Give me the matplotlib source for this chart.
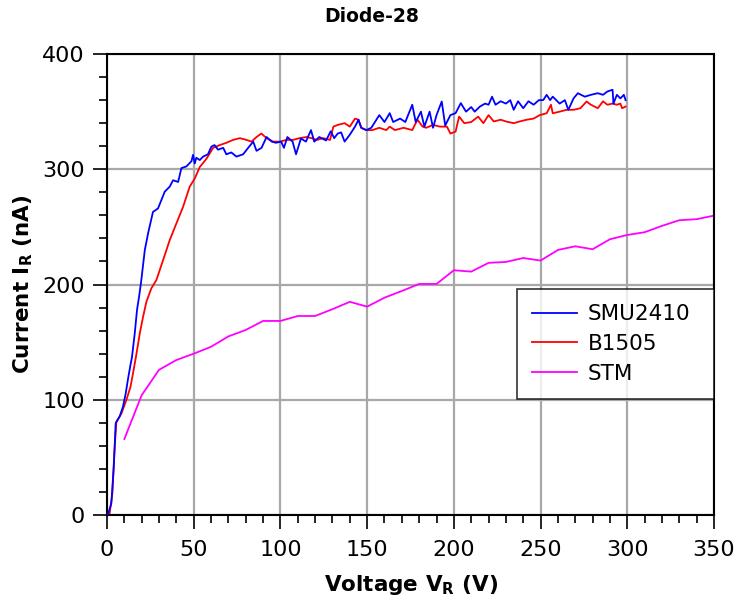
import numpy as np
import matplotlib
matplotlib.use("Agg")
import matplotlib.pyplot as plt
from matplotlib.ticker import MultipleLocator

# SMU2410 (blau)
smu_v = [0.0, 0.6, 2.5, 3.9, 5.0, 7.3, 9.2, 10.8, 12.0, 13.5, 14.4, 16.0, 17.3, 18.5, 19.8,
         21.8, 23.7, 26.5, 29.4, 33.3, 36.2, 38.1, 41.0, 42.9, 45.8, 48.7, 49.6, 50.6, 51.5,
         53.5, 55.4, 58.2, 60.2, 62.0, 64.0, 67.0, 68.8, 71.7, 74.6, 78.5, 81.4, 84.3, 86.2,
         89.1, 92.0, 95.0, 97.4, 100.4, 102.0, 104.0, 107.0, 109.0, 111.8, 114.7, 117.6,
         119.5, 122.4, 126.3, 129.0, 131.0, 133.0, 135.0, 137.0, 140.0, 143.0, 145.0, 146.6,
         149.5, 152.4, 157.0, 160.0, 163.0, 165.0, 169.0, 172.0, 176.0, 178.0, 181.0, 183.0,
         186.0, 188.0, 190.0, 193.0, 195.0, 198.0, 201.0, 204.0, 207.0, 210.0, 212.0, 215.0,
         218.0, 220.0, 222.0, 224.0, 227.0, 230.0, 232.5, 234.5, 237.0, 240.0, 243.0, 246.0,
         249.0, 251.5, 253.5, 255.5, 257.0, 261.0, 264.0, 266.0, 269.0, 271.5, 275.5, 279.0,
         283.0, 286.0, 288.5, 291.5, 292.0, 294.0, 296.0, 298.0, 299.0]
smu_i = [0, 1, 10, 42, 79.6, 85.5, 94, 105.6, 117, 130, 137, 157.7, 178, 189.5, 204,
         230, 244.5, 263, 266, 280.6, 285, 290.5, 289, 301, 302.5, 307, 312.5, 305, 310,
         308, 311, 313, 319.7, 321, 317, 318.6, 313, 314.6, 311, 313, 318.6, 324, 316,
         318.6, 328, 324, 323, 324, 318.6, 328, 324, 313, 326.7, 324, 334,
         324, 328, 325, 333, 327, 331, 332, 324, 330, 337, 343, 336,
         334, 336, 347, 341, 348.7, 341, 344, 341, 356, 341, 350, 337,
         350, 336, 347, 358.8, 338, 347, 348.7, 357.4, 350, 354, 350, 354.4,
         357, 356, 363, 356, 359, 357, 360, 351.6, 359, 353, 359, 356,
         360, 360, 364.6, 360, 363, 357, 360, 351.6, 361.5, 366, 363, 364.6,
         366, 364.6, 367.5, 369, 357, 364.6, 361.5, 364.6, 360]

# B1505 (rot)
b15_v = [0.0, 1.4, 3.1, 4.2, 5.4, 8.3, 11.2, 13.5, 15.0, 17.0, 18.9, 20.8, 22.7, 25.6, 28.5,
         32.3, 36.2, 40.0, 43.9, 47.7, 50.6, 53.5, 57.3, 61.2, 65.0, 68.9, 72.7, 76.6, 80.4,
         83.3, 86.2, 89.0, 92.0, 95.8, 99.7, 103.5, 107.3, 111.0, 115.0, 118.0, 121.0, 124.7,
         128.6, 130.5, 133.0, 137.0, 140.0, 143.0, 145.0, 146.6, 149.5, 153.0, 157.0, 161.0,
         163.0, 166.0, 171.0, 176.0, 179.0, 182.0, 184.0, 188.0, 192.0, 196.0, 198.0, 201.0,
         203.0, 206.0, 210.0, 214.0, 217.0, 220.0, 223.0, 227.0, 230.0, 234.5, 238.0, 242.0,
         246.0, 249.5, 253.5, 256.0, 257.0, 261.0, 265.0, 269.0, 273.0, 276.5, 279.0, 283.0,
         286.0, 288.5, 291.5, 294.0, 296.0, 297.0, 299.0]
b15_i = [0, 0, 19, 53, 81, 88, 100, 111, 123, 140, 157.7, 172, 185, 196.8, 204,
         221, 238.7, 253, 267.6, 285, 292, 302, 309, 318.6, 321, 323, 325.5, 327, 325.5,
         324, 328, 331, 327, 324, 324, 325.5, 325.5, 327, 328, 327, 325.5, 327,
         325.5, 337, 338.5, 340, 337, 344, 343, 336, 334, 334, 336, 334,
         337, 334, 336, 334, 343, 337, 336, 338.5, 337, 337, 331, 332.7,
         345.7, 340, 341, 345.7, 340, 347, 341.5, 343, 341.5, 340, 341.5, 343,
         344, 347, 348.6, 356, 348.6, 350, 351.6, 351.6, 353, 358.8, 356, 353,
         359, 356, 357, 356, 357, 353, 354.4]

# STM (magenta)
stm_v = [10, 20, 30, 40, 50, 60, 70, 80, 90, 100, 110, 120, 130, 140, 150, 160, 170, 180,
         190, 200, 210, 220, 230, 240, 250, 260, 270, 280, 290, 300, 310, 320, 330, 340, 350]
stm_i = [66, 104, 126, 134.5, 140, 146, 155, 160.6, 168.4, 168.4, 172.7, 172.7, 178.6, 185,
         180.8, 188.6, 194.4, 200.5, 200.5, 212.4, 211.2, 218.8, 219.6, 223, 220.8, 230,
         233.2, 230.6, 239.3, 243, 245.4, 250.9, 255.8, 256.7, 259.8]

plt.rcParams['font.family'] = ['DejaVu Sans']

fig = plt.figure(figsize=(7.39, 6.03), dpi=100)
ax = fig.add_axes([0.1448, 0.1459, 0.8214, 0.7645])

ax.plot(smu_v, smu_i, color='#0000ff', lw=1.3, label='SMU2410', zorder=3)
ax.plot(b15_v, b15_i, color='#ff0000', lw=1.3, label='B1505', zorder=2)
ax.plot(stm_v, stm_i, color='#ff00ff', lw=1.3, label='STM', zorder=2)

ax.set_xlim(0, 350)
ax.set_ylim(0, 400)
ax.xaxis.set_major_locator(MultipleLocator(50))
ax.xaxis.set_minor_locator(MultipleLocator(10))
ax.yaxis.set_major_locator(MultipleLocator(100))
ax.yaxis.set_minor_locator(MultipleLocator(20))
ax.tick_params(which='major', direction='out', length=10, width=1.2, labelsize=16, pad=6)
ax.tick_params(which='minor', direction='out', length=5.5, width=1.2)
ax.tick_params(axis='x', which='major', pad=8)
ax.grid(True, which='major', color='#a8a8a8', lw=1.6)
ax.set_axisbelow(True)
for s in ax.spines.values():
    s.set_linewidth(1.5)

ax.set_xlabel(r'Voltage V$_\mathbf{R}$ (V)', fontsize=15.5, fontweight='bold', labelpad=9)
ax.set_ylabel(r'Current I$_\mathbf{R}$ (nA)', fontsize=15.5, fontweight='bold', labelpad=5)
fig.text(0.503, 0.972, 'Diode-28', fontsize=13.5, fontweight='bold', ha='center', va='center')

leg = ax.legend(loc='upper left', bbox_to_anchor=(0.675, 0, 0.325, 0.49), mode='expand',
                fontsize=15.5, frameon=True, fancybox=False, edgecolor='black',
                handlelength=2.1, handletextpad=0.5, borderaxespad=0,
                labelspacing=0.45, borderpad=0.7)
leg.get_frame().set_linewidth(1.2)

fig.savefig('out.png', dpi=100)
